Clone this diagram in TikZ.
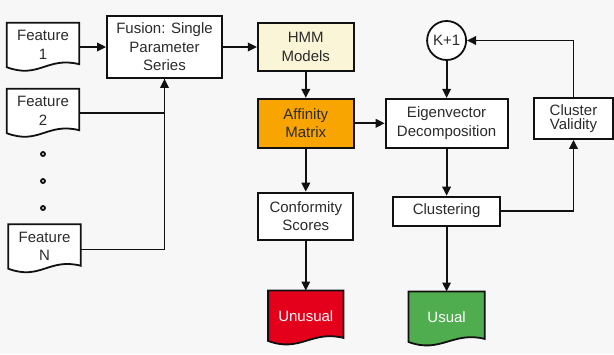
\documentclass[tikz,border=0pt]{standalone}
\usepackage{fontspec}
\setmainfont{Liberation Sans}
\usepackage{xcolor}
\definecolor{cLine}{HTML}{111111}
\definecolor{cText}{HTML}{2B2B2B}
\definecolor{cBack}{HTML}{F7F7F7}
\definecolor{cHmm}{HTML}{FAF5D7}
\definecolor{cAffinity}{HTML}{F8A502}
\definecolor{cUnusual}{HTML}{E4001B}
\definecolor{cUsual}{HTML}{4FAD4F}
\usepackage{tikz}
\usetikzlibrary{positioning,arrows.meta,backgrounds}
\newcommand\figfont{\fontsize{15}{18.5}\selectfont}
\tikzset{
  node-box/.style={draw=cLine,line width=1.8pt,fill=white,inner sep=0pt,
    align=center,font=\figfont,text=cText},
  node-doc/.style={inner sep=0pt,align=center,font=\figfont,text=cText,
    minimum width=72pt,minimum height=44pt},
  node-sum/.style={draw=cLine,line width=1.8pt,fill=white,circle,
    minimum size=39pt,inner sep=0pt,font=\figfont,text=cText},
  node-dot/.style={draw=cLine,line width=1.8pt,circle,minimum size=4pt,
    inner sep=0pt},
  doc-line/.style={draw=cLine,line width=1.8pt},
  arrow/.style={-{Triangle[length=9pt,width=8.5pt]},line width=1.8pt,draw=cLine},
  line/.style={line width=1.8pt,draw=cLine},
}
% outline of a document node (wavy bottom), kept behind its text
\newcommand\docoutline[2][white]{%
  \begin{scope}[on background layer]
    \draw[doc-line,fill=#1] (#2.north west) -- (#2.north east)
      -- ([yshift=3pt]#2.south east)
      .. controls ([xshift=-32pt,yshift=11pt]#2.south east)
      and ([xshift=32pt,yshift=-12pt]#2.south west) .. (#2.south west) -- cycle;
  \end{scope}}

\begin{document}
\begin{tikzpicture}[x=1pt,y=-1pt]
  \useasboundingbox (0,0) rectangle (614,354);
  \begin{scope}[on background layer]
    \fill[cBack] (0,0) rectangle (614,354);
  \end{scope}

  % inputs
  \node[node-doc] (feat1) at (43,45) {Feature\\1};
  \node[node-doc] (feat2) at (43,111) {Feature\\2};
  \node[node-doc] (featN) at (44.5,246.5) {Feature\\N};
  \docoutline{feat1}
  \docoutline{feat2}
  \docoutline{featN}
  \node[node-dot] (dot1) at (43,154) {};
  \node[node-dot] (dot2) at (43,181) {};
  \node[node-dot] (dot3) at (43,208) {};

  \node[node-box,minimum width=115pt,minimum height=62pt] (fusion) at (164.5,47)
    {Fusion: Single\\Parameter\\Series};

  % HMM column
  \node[node-box,right=34pt of fusion,minimum width=96pt,minimum height=48pt,
    fill=cHmm] (hmm) {HMM\\Models};
  \node[node-box,below=26pt of hmm,minimum width=96pt,minimum height=49pt,
    fill=cAffinity] (aff) {Affinity\\Matrix};
  \node[node-box,below=43pt of aff,minimum width=95pt,minimum height=47pt]
    (conf) {Conformity\\Scores};
  \node[node-doc,below=50pt of conf,minimum width=75pt,minimum height=50pt,
    text=white] (unusual) {Unusual};
  \docoutline[cUnusual]{unusual}

  % clustering column
  \node[node-box,right=30pt of aff,minimum width=122pt,minimum height=49pt]
    (eig) {Eigenvector\\Decomposition};
  \node[node-sum,above=37pt of eig] (kp1) {K+1};
  \node[node-box,below=47pt of eig,minimum width=107pt,minimum height=29pt]
    (clus) {Clustering};
  \node[node-doc,below=65pt of clus,minimum width=76pt,minimum height=50pt,
    text=white] (usual) {Usual};
  \docoutline[cUsual]{usual}
  \node[node-box,minimum width=79pt,minimum height=41pt,
    font=\fontsize{15}{13.5}\selectfont] (valid) at (573.5,118.5)
    {Cluster\\Validity};

  \draw[arrow] (feat1.east |- fusion.west) -- (fusion.west);
  \draw[line] ([yshift=-2pt]feat2.east) -| (fusion.south);
  \draw[arrow] ([yshift=-3pt]featN.east) -| (fusion.south);
  \draw[arrow] (fusion.east) -- (hmm.west);
  \draw[arrow] (hmm) -- (aff);
  \draw[arrow] (aff) -- (conf);
  \draw[arrow] (conf.south) -- (unusual.north);
  \draw[arrow] (aff) -- (eig);
  \draw[arrow] (kp1) -- (eig);
  \draw[arrow] (eig) -- (clus);
  \draw[arrow] (clus.south) -- (usual.north);
  \draw[arrow] (clus.east) -| (valid.south);
  \draw[arrow] (valid.north) |- (kp1.east);
\end{tikzpicture}
\end{document}
